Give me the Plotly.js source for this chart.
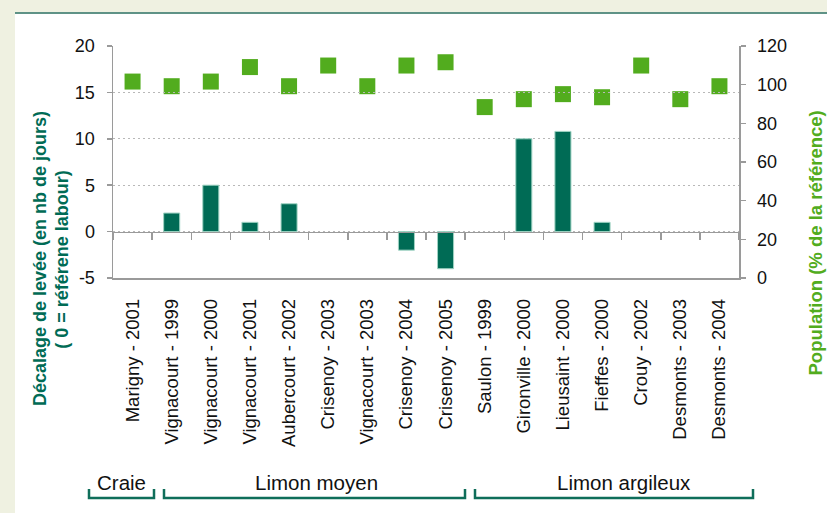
<!DOCTYPE html>
<html>
<head>
<meta charset="utf-8">
<script src="https://cdn.plot.ly/plotly-3.0.1.min.js"></script>
<style>
html,body{margin:0;padding:0;background:#ffffff;}
#chart{width:827px;height:513px;}
</style>
</head>
<body>
<div id="chart"></div>
<script>
// ---- data ----
const categories = ['Marigny - 2001', 'Vignacourt - 1999', 'Vignacourt - 2000', 'Vignacourt - 2001',
  'Aubercourt - 2002', 'Crisenoy - 2003', 'Vignacourt - 2003', 'Crisenoy - 2004', 'Crisenoy - 2005',
  'Saulon - 1999', 'Gironville - 2000', 'Lieusaint - 2000', 'Fieffes - 2000', 'Crouy - 2002',
  'Desmonts - 2003', 'Desmonts - 2004'];
const decalage = [0, 2, 5, 1, 3, 0, 0, -2, -4, 0, 10, 10.8, 1, 0, 0, 0];
const population = [101.6, 99.2, 101.6, 109.1, 99.2, 109.9, 99.2, 109.9, 111.6, 88.4, 92.5, 95.1, 93.5, 109.9, 92.5, 99.2];
const leftTickVals = [-5, 0, 5, 10, 15, 20];
const leftTickText = ['-5', '0', '5', '10', '15', '20'];
const rightTickVals = [0, 20, 40, 60, 80, 100, 120];
const rightTickText = ['0', '20', '40', '60', '80', '100', '120'];
const groupLabels = ['Craie', 'Limon moyen', 'Limon argileux'];
const leftTitle1 = 'Décalage de levée (en nb de jours)';
const leftTitle2 = '( 0 = référene labour)';
const rightTitle = 'Population (% de la référence)';

// ---- layout helpers (pixel -> paper) ----
const W = 827, H = 513, L = 113, R = 88, T = 46, B = 235;
const PW = W - L - R, PH = H - T - B;
const xp = px => (px - L) / PW;
const yp = py => (H - B - py) / PH;

const FONT = '"Liberation Sans", Arial, Helvetica, sans-serif';
const DARK = '#006b55';
const LIGHT = '#52ac1e';
const AXC = '#9a9a9a';

const traces = [
  {
    type: 'bar', x: categories, y: decalage, xaxis: 'x2', yaxis: 'y',
    width: 0.41,
    marker: {color: DARK, line: {color: '#9fd3c3', width: decalage.map(v => v === 0 ? 0 : 1)}},
    hoverinfo: 'x+y', showlegend: false
  },
  {
    type: 'scatter', mode: 'markers', x: categories, y: population, xaxis: 'x', yaxis: 'y2',
    marker: {symbol: 'square', size: 16, color: LIGHT},
    showlegend: false
  }
];

function bracket(x1, x2) {
  const a = xp(x1), b = xp(x2), top = yp(489), bot = yp(498);
  return {type: 'path', xref: 'paper', yref: 'paper',
    path: `M ${a},${top} L ${a},${bot} L ${b},${bot} L ${b},${top}`,
    line: {color: '#0f6e5a', width: 2.5}};
}

const shapes = [
  {type: 'rect', xref: 'paper', yref: 'paper', x0: xp(0), x1: xp(15), y0: yp(513), y1: yp(0),
    fillcolor: '#eff1e1', line: {width: 0}, layer: 'below'},
  {type: 'rect', xref: 'paper', yref: 'paper', x0: xp(0), x1: xp(827), y0: yp(12.3), y1: yp(0),
    fillcolor: '#eff1e1', line: {width: 0}, layer: 'below'},
  {type: 'line', xref: 'paper', yref: 'paper', x0: xp(15), x1: xp(827), y0: yp(13), y1: yp(13),
    line: {color: '#2a6f5f', width: 1.5}},
  bracket(89, 154),
  bracket(164, 465),
  bracket(475, 753)
];

const annotations = [
  {text: leftTitle1, xref: 'paper', yref: 'paper', x: xp(40), y: yp(259), textangle: -90,
    showarrow: false, xanchor: 'center', yanchor: 'middle',
    font: {family: FONT, size: 18, color: DARK, weight: 'bold'}},
  {text: leftTitle2, xref: 'paper', yref: 'paper', x: xp(61.7), y: yp(259), textangle: -90,
    showarrow: false, xanchor: 'center', yanchor: 'middle',
    font: {family: FONT, size: 18, color: DARK, weight: 'bold'}},
  {text: rightTitle, xref: 'paper', yref: 'paper', x: xp(815), y: yp(243.5), textangle: -90,
    showarrow: false, xanchor: 'center', yanchor: 'middle',
    font: {family: FONT, size: 18.5, color: LIGHT, weight: 'bold'}},
  {text: groupLabels[0], xref: 'paper', yref: 'paper', x: xp(121), y: yp(482),
    showarrow: false, xanchor: 'center', yanchor: 'middle', font: {family: FONT, size: 20.5, color: '#111'}},
  {text: groupLabels[1], xref: 'paper', yref: 'paper', x: xp(316), y: yp(482),
    showarrow: false, xanchor: 'center', yanchor: 'middle', font: {family: FONT, size: 20.5, color: '#111'}},
  {text: groupLabels[2], xref: 'paper', yref: 'paper', x: xp(623.5), y: yp(482),
    showarrow: false, xanchor: 'center', yanchor: 'middle', font: {family: FONT, size: 20.5, color: '#111'}}
];

const layout = {
  width: W, height: H,
  margin: {l: L, r: R, t: T, b: B, pad: 0},
  paper_bgcolor: '#ffffff', plot_bgcolor: 'rgba(0,0,0,0)',
  font: {family: FONT, color: '#111'},
  showlegend: false,
  xaxis: {
    type: 'category', categoryorder: 'array', categoryarray: categories,
    range: [-0.5, categories.length - 0.5], anchor: 'y', side: 'bottom',
    showline: true, linecolor: AXC, linewidth: 1.5,
    ticks: '', tickangle: -90, ticklabelstandoff: 12,
    tickfont: {family: FONT, size: 18.5, color: '#111'},
    showgrid: false, zeroline: false, fixedrange: true
  },
  xaxis2: {
    type: 'category', categoryorder: 'array', categoryarray: categories,
    range: [-0.5, categories.length - 0.5], overlaying: 'x', anchor: 'free', position: 0.2,
    showline: true, linecolor: AXC, linewidth: 1.5,
    ticks: 'outside', tickson: 'boundaries', ticklen: 7, tickwidth: 1.5, tickcolor: AXC,
    showticklabels: false, showgrid: false, zeroline: false, fixedrange: true
  },
  yaxis: {
    range: [-5, 20], tickmode: 'array', tickvals: leftTickVals, ticktext: leftTickText,
    showline: true, linecolor: AXC, linewidth: 1.5,
    ticks: 'outside', ticklen: 5, tickwidth: 1.5, tickcolor: AXC, ticklabelstandoff: 8,
    tickfont: {family: FONT, size: 18, color: '#111'},
    showgrid: true, gridcolor: '#b8b8b8', gridwidth: 1.3, griddash: '1.5px,3.5px',
    zeroline: false, fixedrange: true
  },
  yaxis2: {
    range: [0, 120], tickmode: 'array', tickvals: rightTickVals, ticktext: rightTickText,
    overlaying: 'y', side: 'right', anchor: 'x',
    showline: true, linecolor: AXC, linewidth: 1.5,
    ticks: 'outside', ticklen: 5, tickwidth: 1.5, tickcolor: AXC, ticklabelstandoff: 8,
    tickfont: {family: FONT, size: 18, color: '#111'},
    showgrid: false, zeroline: false, fixedrange: true
  },
  shapes: shapes,
  annotations: annotations
};

Plotly.newPlot('chart', traces, layout, {displayModeBar: false, staticPlot: true});
</script>
</body>
</html>
